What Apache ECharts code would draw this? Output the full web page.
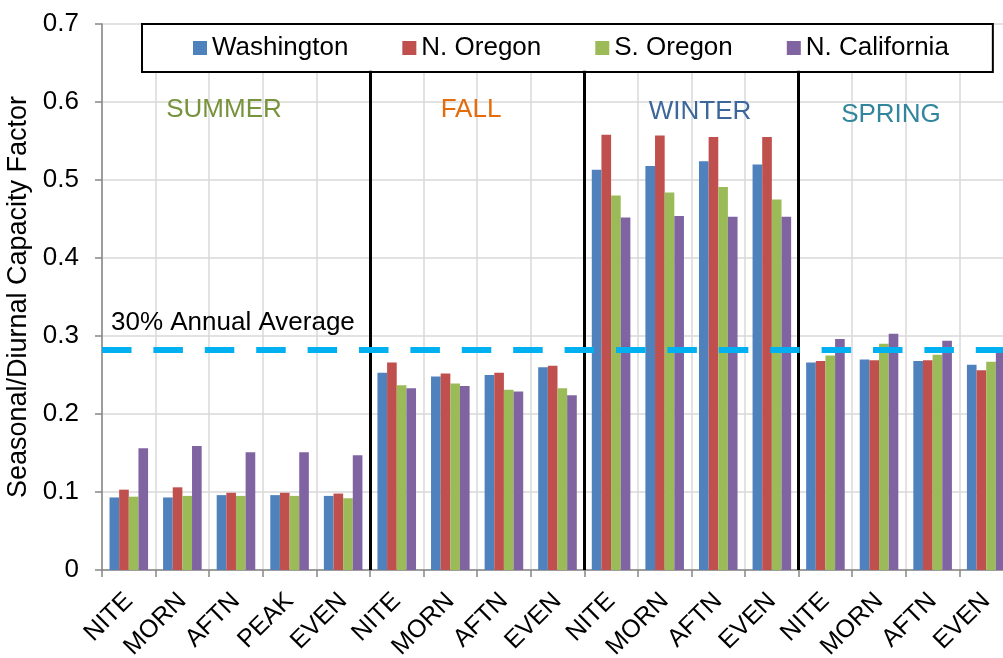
<!DOCTYPE html>
<html>
<head>
<meta charset="utf-8">
<script src="https://cdn.jsdelivr.net/npm/echarts@6/dist/echarts.min.js"></script>
<style>
  html, body { margin: 0; padding: 0; overflow: hidden; background: #fff; }
  #chart { width: 1013px; height: 658px; }
</style>
</head>
<body>
<div id="chart"></div>
<script>
// Diurnal periods, grouped by season
const categories = [
  'NITE', 'MORN', 'AFTN', 'PEAK', 'EVEN',
  'NITE', 'MORN', 'AFTN', 'EVEN',
  'NITE', 'MORN', 'AFTN', 'EVEN',
  'NITE', 'MORN', 'AFTN', 'EVEN'
];
const seasons = ['SUMMER', 'FALL', 'WINTER', 'SPRING'];
// Category index where each new season begins (dividers)
const seasonBreaks = [5, 9, 13];

const regions = ['Washington', 'N. Oregon', 'S. Oregon', 'N. California'];
const washington = [0.093, 0.093, 0.096, 0.096, 0.095, 0.253, 0.248, 0.250, 0.260, 0.513, 0.518, 0.524, 0.520, 0.266, 0.270, 0.268, 0.263];
const nOregon    = [0.103, 0.106, 0.099, 0.099, 0.098, 0.266, 0.252, 0.253, 0.262, 0.558, 0.557, 0.555, 0.555, 0.268, 0.269, 0.269, 0.256];
const sOregon    = [0.094, 0.095, 0.095, 0.095, 0.092, 0.237, 0.239, 0.231, 0.233, 0.480, 0.484, 0.491, 0.475, 0.275, 0.290, 0.276, 0.267];
const nCalifornia= [0.156, 0.159, 0.151, 0.151, 0.147, 0.233, 0.236, 0.229, 0.224, 0.452, 0.454, 0.453, 0.453, 0.296, 0.303, 0.294, 0.280];
const annualAverage = 0.283;
const annualLabel = '30% Annual Average';
const yTicks = [0, 0.1, 0.2, 0.3, 0.4, 0.5, 0.6, 0.7];

const FONT = '"Liberation Sans", Arial, sans-serif';
const colors = ['#4f81bd', '#c0504d', '#9bbb59', '#8064a2'];
const seasonColors = ['#77933c', '#e46c0a', '#3d679b', '#31859c'];
const seasonPos = [[224, 110], [471, 110], [700, 112], [891, 115]];

const chart = echarts.init(document.getElementById('chart'), null, { renderer: 'canvas' });

const barSeries = [washington, nOregon, sOregon, nCalifornia].map((vals, i) => ({
  name: regions[i],
  type: 'bar',
  data: vals,
  barGap: '0%',
  barCategoryGap: '28%',
  itemStyle: { color: colors[i] },
  z: 2
}));

// Vertical dividers between seasons, on a hidden continuous x axis spanning the categories
const dividerLines = {
  type: 'lines',
  coordinateSystem: 'cartesian2d',
  xAxisIndex: 1,
  yAxisIndex: 0,
  polyline: false,
  silent: true,
  z: 4,
  lineStyle: { color: '#000', width: 3, opacity: 1 },
  data: seasonBreaks.map(b => ({ coords: [[b, 0], [b, 0.64]] }))
};

const averageLine = {
  type: 'lines',
  coordinateSystem: 'cartesian2d',
  xAxisIndex: 1,
  yAxisIndex: 0,
  polyline: false,
  silent: true,
  z: 5,
  lineStyle: { color: '#00b0f0', width: 6, opacity: 1, type: [29.5, 21.9], cap: 'butt' },
  data: [{ coords: [[0, annualAverage], [categories.length, annualAverage]] }]
};

const option = {
  animation: false,
  backgroundColor: '#fff',
  textStyle: { fontFamily: FONT },
  grid: { left: 102, right: 0, top: 24, bottom: 88, containLabel: false, outerBoundsMode: 'none' },
  legend: {
    data: regions,
    left: 142,
    top: 24,
    orient: 'horizontal',
    icon: 'rect',
    itemWidth: 14,
    itemHeight: 14,
    itemGap: 54,
    padding: [11, 44, 11, 51],
    backgroundColor: '#fff',
    borderColor: '#000',
    borderWidth: 2,
    borderRadius: 0,
    textStyle: { fontFamily: FONT, fontSize: 26, color: '#000', lineHeight: 26 }
  },
  xAxis: [
    {
      type: 'category',
      data: categories,
      boundaryGap: true,
      axisLine: { lineStyle: { color: '#868686', width: 1.5 } },
      axisTick: { show: true, length: 7, inside: false, alignWithLabel: false, lineStyle: { color: '#868686', width: 1.5 } },
      axisLabel: { interval: 0, rotate: 45, margin: 27, fontSize: 25, color: '#000', fontFamily: FONT },
      splitLine: { show: true, interval: 0, lineStyle: { color: '#d9d9d9', width: 1.5 } }
    },
    {
      type: 'value',
      min: 0,
      max: categories.length,
      show: false
    }
  ],
  yAxis: {
    type: 'value',
    min: 0,
    max: 0.7,
    interval: 0.1,
    name: 'Seasonal/Diurnal Capacity Factor',
    nameLocation: 'middle',
    nameGap: 55,
    nameTextStyle: { fontSize: 27, color: '#000', fontFamily: FONT },
    axisLine: { show: true, lineStyle: { color: '#868686', width: 1.5 } },
    axisTick: { show: true, length: 7, lineStyle: { color: '#868686', width: 1.5 } },
    axisLabel: {
      margin: 23, fontSize: 26, color: '#000', fontFamily: FONT,
      formatter: v => {
        const t = yTicks.find(x => Math.abs(x - v) < 1e-9);
        return String(t !== undefined ? t : v);
      }
    },
    splitLine: { show: true, lineStyle: { color: '#d9d9d9', width: 1.5 } }
  },
  graphic: [
    ...seasons.map((s, i) => ({
      type: 'text',
      x: seasonPos[i][0],
      y: seasonPos[i][1],
      z: 10,
      style: {
        text: s,
        fill: seasonColors[i],
        font: '26px ' + FONT,
        textAlign: 'center',
        textVerticalAlign: 'middle'
      }
    })),
    {
      type: 'text',
      x: 111,
      y: 323,
      z: 10,
      style: {
        text: annualLabel,
        fill: '#000',
        font: '26px ' + FONT,
        textAlign: 'left',
        textVerticalAlign: 'middle'
      }
    }
  ],
  series: [...barSeries, dividerLines, averageLine]
};

chart.setOption(option);
</script>
</body>
</html>
